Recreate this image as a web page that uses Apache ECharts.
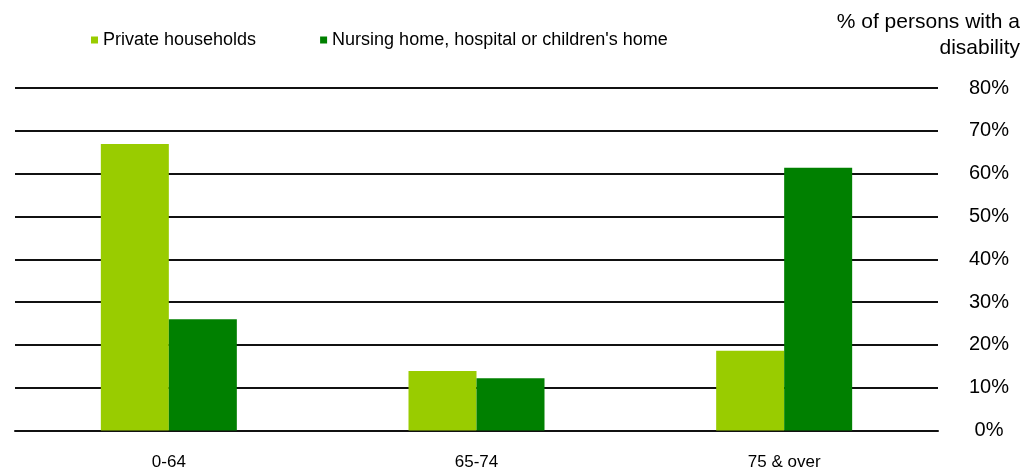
<!DOCTYPE html>
<html><head><meta charset="utf-8">
<script src="https://cdn.jsdelivr.net/npm/echarts@6/dist/echarts.min.js"></script>
<style>html,body{margin:0;padding:0;background:#fff}#c{width:1024px;height:475px}</style>
</head><body><div id="c"></div>
<script>
const categories = ['0-64', '65-74', '75 & over'];
const privateHouseholds = [66.9, 13.9, 18.6];
const institutions = [26.0, 12.2, 61.4];
const seriesNames = ['Private households', "Nursing home, hospital or children's home"];
const axisTitle = '% of persons with a\ndisability';

const chart = echarts.init(document.getElementById('c'));
const font = 'Liberation Sans, Arial, sans-serif';
chart.setOption({
  animation: false,
  backgroundColor: '#fff',
  graphic: [{
    type: 'text', right: 4, top: 9,
    style: {text: axisTitle, font: '21px Liberation Sans, Arial, sans-serif', fill: '#000', textAlign: 'right', lineHeight: 26}
  }],
  legend: {
    left: 86, top: 26, itemWidth: 7, itemHeight: 7, itemGap: 64, icon: 'rect',
    textStyle: {fontFamily: font, fontSize: 18, color: '#000'}
  },
  grid: {left: 15, right: 86, top: 88, bottom: 44.5},
  xAxis: {
    type: 'category', data: categories,
    axisLine: {show: true, lineStyle: {color: '#111', width: 2}},
    axisTick: {show: false},
    axisLabel: {fontFamily: font, fontSize: 17, color: '#000', margin: 23}
  },
  yAxis: {
    type: 'value', position: 'right', min: 0, max: 80, interval: 10,
    axisLine: {show: false}, axisTick: {show: false},
    splitLine: {lineStyle: {color: '#111', width: 2}},
    axisLabel: {formatter: '{value}%', fontFamily: font, fontSize: 20, color: '#000', align: 'center', margin: 51, padding: [7, 0, 0, 0]}
  },
  series: [
    {name: seriesNames[0], type: 'bar', data: privateHouseholds, barWidth: 68, barGap: '0%',
     itemStyle: {color: '#99CC00'}},
    {name: seriesNames[1], type: 'bar', data: institutions, barWidth: 68,
     itemStyle: {color: '#008000'}}
  ]
});
</script></body></html>
